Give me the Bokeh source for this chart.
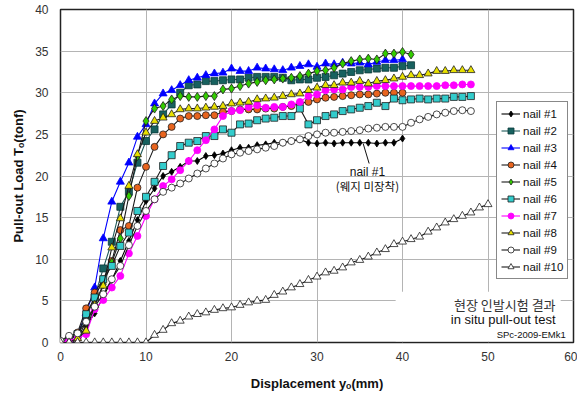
from bokeh.plotting import figure
from bokeh.models import Label, BoxAnnotation, Arrow, FixedTicker, Legend, LegendItem
from bokeh.embed import file_html
from bokeh.resources import INLINE

# displacement steps (mm)
X = [0, 1, 2, 3, 4, 5, 6, 7, 8, 9, 10, 11, 12, 13, 14, 15, 16, 17, 18, 19, 20,
     21, 22, 23, 24, 25, 26, 27, 28, 29, 30, 31, 32, 33, 34, 35, 36, 37, 38, 39, 40,
     41, 42, 43, 44, 45, 46, 47, 48, 49, 50]

N1 = [0, 0, 0.3, 2.0, 3.5, 5.5, 7.5, 9.8, 12.2, 14.7, 17.0,
      18.5, 20.0, 20.5, 21.1, 21.8, 21.8, 22.4, 22.5, 22.7, 23.1,
      23.4, 23.4, 23.7, 23.8, 24.0, 24.0, 24.2, 24.4, 24.0, 23.9,
      24.0, 23.9, 24.0, 24.0, 24.0, 24.0, 23.9, 24.0, 24.0, 24.5]
N2 = [0, 0.2, 1.0, 3.0, 5.5, 8.9, 12.1, 16.3, 18.1, 21.6, 24.2,
      25.6, 27.4, 28.6, 30.0, 30.9, 31.0, 31.4, 31.4, 31.5, 31.6,
      31.6, 31.8, 31.9, 31.9, 31.9, 31.8, 31.5, 31.6, 31.6, 31.8,
      31.9, 32.1, 32.3, 32.5, 32.7, 32.8, 32.9, 33.0, 33.0, 33.2, 33.3]
N3 = [0, 0.2, 1.0, 3.5, 6.6, 12.5, 16.9, 19.3, 21.6, 24.7, 26.2,
      28.7, 29.9, 30.3, 30.9, 31.5, 31.8, 32.1, 32.3, 32.4, 32.9,
      32.6, 32.6, 33.0, 32.9, 32.8, 32.7, 33.0, 33.2, 33.4, 33.1,
      33.5, 33.4, 33.6, 33.5, 33.6, 33.4, 33.7, 33.9, 33.9, 34.0]
N4 = [0, 0.3, 1.2, 4.1, 6.0, 7.6, 9.8, 13.5, 14.0, 18.6, 21.1,
      23.5, 25.0, 25.9, 26.9, 27.2, 27.2, 27.3, 27.3, 27.7, 27.8,
      28.0, 28.0, 28.0, 28.1, 28.1, 28.3, 28.4, 28.7, 28.9, 29.2,
      29.4, 29.5, 29.6, 29.7, 29.8, 29.8, 29.9, 30.0, 30.0, 30.0]
N5 = [0, 0, 0.5, 2.5, 4.5, 7.0, 9.6, 12.5, 17.6, 22.4, 26.6,
      28.1, 28.4, 29.2, 29.6, 29.5, 29.5, 29.6, 29.6, 30.4, 30.5,
      30.8, 31.1, 31.3, 31.5, 31.6, 31.7, 31.8, 32.0, 32.3, 32.6,
      32.7, 33.0, 33.5, 33.8, 34.0, 34.1, 34.0, 34.7, 34.7, 34.9, 34.6]
N6 = [0, 0.3, 1.0, 3.4, 5.4, 7.6, 9.2, 11.6, 13.2, 15.8, 17.5,
      19.3, 21.2, 22.5, 23.6, 24.0, 24.2, 24.8, 24.8, 25.6, 25.2,
      26.2, 26.3, 26.7, 26.9, 27.0, 27.2, 27.2, 28.1, 26.2, 26.7,
      27.2, 27.4, 27.8, 28.0, 28.2, 28.4, 28.8, 28.4, 29.3, 29.1,
      29.2, 29.3, 29.2, 29.3, 29.3, 29.5, 29.5, 29.6]
N7 = [0, 0.2, 0.5, 1.0, 4.0, 5.1, 6.6, 8.0, 10.7, 12.8, 15.2,
      17.2, 18.8, 19.6, 20.7, 21.8, 23.1, 24.3, 25.6, 27.2, 27.8,
      27.9, 28.3, 28.5, 28.2, 28.3, 28.3, 28.6, 28.9, 29.6, 29.8,
      30.3, 30.4, 30.4, 30.7, 30.7, 30.7, 30.8, 30.8, 30.8, 30.8,
      30.8, 30.8, 30.8, 30.8, 30.9, 30.9, 31.0, 31.0]
N8 = [0, 0, 0.5, 1.4, 4.5, 6.8, 11.4, 14.9, 18.8, 22.6, 25.2,
      26.6, 27.0, 27.4, 28.0, 28.1, 28.1, 28.2, 28.3, 28.4, 28.7,
      28.8, 28.9, 29.2, 29.3, 29.4, 29.6, 29.8, 29.9, 30.3, 30.6,
      30.9, 30.9, 31.2, 31.2, 31.4, 31.1, 31.4, 31.5, 31.7, 31.9,
      32.1, 32.1, 32.3, 32.6, 32.6, 32.7, 32.7, 32.7]
N9 = [0.2, 0.8, 1.1, 2.5, 4.3, 5.8, 7.6, 9.2, 11.7, 14.0, 15.8,
      17.2, 18.1, 18.6, 19.1, 19.7, 20.3, 20.9, 21.5, 22.1, 22.6,
      22.8, 23.0, 23.2, 23.4, 23.6, 24.0, 24.2, 24.4, 24.8, 25.0,
      25.2, 25.2, 25.3, 25.4, 25.5, 25.7, 25.8, 25.9, 25.9, 25.9,
      26.4, 26.8, 27.1, 27.4, 27.6, 27.8, 27.9, 27.8]
N10 = [0, 0, 0, 0, 0, 0, 0, 0, 0, 0, 0,
       0.9, 1.5, 2.3, 2.6, 3.1, 3.4, 3.6, 3.9, 4.1, 4.2,
       4.5, 4.8, 5.0, 5.1, 5.7, 6.1, 6.6, 7.0, 7.5, 7.9,
       8.4, 8.6, 9.0, 9.6, 9.9, 10.3, 10.8, 11.2, 11.8, 12.1,
       12.4, 12.7, 13.3, 13.8, 14.4, 14.8, 15.2, 15.6, 16.2, 16.6]

NAMES = ["nail #1", "nail #2", "nail #3", "nail #4", "nail #5",
         "nail #6", "nail #7", "nail #8", "nail #9", "nail #10"]
XTICKS = [0, 10, 20, 30, 40, 50, 60]
YTICKS = [0, 5, 10, 15, 20, 25, 30, 35, 40]

SERIES = [N1, N2, N3, N4, N5, N6, N7, N8, N9, N10]
# (line color, marker, marker size, fill, marker edge)
STYLES = [
    ("#000000", "diamond", 7, "#000000", "#000000"),
    ("#1e5a5a", "square", 7, "#17615f", "#0b3a3a"),
    ("#0000ff", "triangle", 8, "#0000ff", "#0000ff"),
    ("#1a1a1a", "circle", 7, "#e8641e", "#202020"),
    ("#1a1a1a", "diamond", 9, "#33cc00", "#202020"),
    ("#1a1a1a", "square", 7, "#33cccc", "#202020"),
    ("#ff00ff", "circle", 7, "#ff00ff", "#ff00ff"),
    ("#1a1a1a", "triangle", 8, "#e8e000", "#202020"),
    ("#1a1a1a", "circle", 7, "#ffffff", "#202020"),
    ("#1a1a1a", "triangle", 8, "#ffffff", "#202020"),
]

FONT = "Liberation Sans"

p = figure(width=577, height=393, x_range=(0, 60), y_range=(0, 40),
           output_backend="svg", toolbar_location=None,
           min_border_left=60, min_border_right=4, min_border_top=9, min_border_bottom=51,
           background_fill_color="white", border_fill_color="white")

p.outline_line_color = "#222222"
p.outline_line_width = 1.5

p.xaxis.ticker = FixedTicker(ticks=XTICKS)
p.yaxis.ticker = FixedTicker(ticks=YTICKS)
for ax in (p.xaxis[0], p.yaxis[0]):
    ax.axis_line_color = None
    ax.major_tick_in = 0
    ax.major_tick_out = 0
    ax.minor_tick_line_color = None
    ax.major_label_text_font = FONT
    ax.major_label_text_font_size = "12px"
    ax.major_label_text_color = "#333333"
    ax.axis_label_text_font = FONT
    ax.axis_label_text_font_style = "bold"
    ax.axis_label_text_font_size = "13px"
    ax.axis_label_text_color = "#111111"

p.xaxis.axis_label = "Displacement yₒ(mm)"
p.yaxis.axis_label = "Pull-out Load Tₒ(tonf)"
p.xaxis.major_label_standoff = 9
p.xaxis.axis_label_standoff = 12
p.yaxis.major_label_standoff = 12
p.yaxis.axis_label_standoff = 6

p.xgrid.grid_line_color = "#b4b4b4"
p.ygrid.grid_line_color = "#b4b4b4"
p.xgrid.grid_line_width = 1
p.ygrid.grid_line_width = 1

# white patch under the caption texts
p.add_layout(BoxAnnotation(left=39.2, right=58.5, bottom=0.15, top=6.1,
                           fill_color="white", fill_alpha=1.0, line_color=None))

items = []
for name, ys, (lc, mk, ms, fc, ec) in zip(NAMES, SERIES, STYLES):
    xs = X[:len(ys)]
    r1 = p.line(xs, ys, line_color=lc, line_width=1.1)
    r2 = p.scatter(xs, ys, marker=mk, size=ms, fill_color=fc, line_color=ec, line_width=0.8)
    items.append(LegendItem(label=name, renderers=[r1, r2]))

legend = Legend(items=items, location=(436, 63))
legend.label_text_font = FONT
legend.label_text_font_size = "11.5px"
legend.label_text_color = "#111111"
legend.glyph_width = 19
legend.glyph_height = 15
legend.label_height = 15
legend.label_standoff = 3
legend.spacing = 2
legend.padding = 4
legend.margin = 0
legend.border_line_color = "#111111"
legend.border_line_width = 1
legend.background_fill_color = "white"
legend.background_fill_alpha = 1.0
p.add_layout(legend, "center")

# annotations
p.add_layout(Arrow(end=None, x_start=36.1, y_start=21.5, x_end=35.4, y_end=23.9,
                   line_color="#111111", line_width=1))
p.add_layout(Label(x=35.9, y=20.5, text="nail #1", text_align="center", text_baseline="middle",
                   text_font=FONT, text_font_size="12px", text_color="#111111"))
p.add_layout(Label(x=35.9, y=18.8, text="(웨지 미장착)", text_align="center", text_baseline="middle",
                   text_font="Noto Sans CJK KR", text_font_size="11.5px", text_color="#111111"))

p.add_layout(Label(x=57.9, y=4.55, text="현장 인발시험 결과", text_align="right", text_baseline="middle",
                   text_font="Noto Sans CJK KR", text_font_size="13px", text_color="#333333"))
p.add_layout(Label(x=57.9, y=2.75, text="in situ pull-out test", text_align="right", text_baseline="middle",
                   text_font=FONT, text_font_size="13px", text_color="#111111"))
p.add_layout(Label(x=59.1, y=0.95, text="SPc-2009-EMk1", text_align="right", text_baseline="middle",
                   text_font=FONT, text_font_size="9.5px", text_color="#111111"))

open("out.html", "w").write(file_html(p, INLINE))
